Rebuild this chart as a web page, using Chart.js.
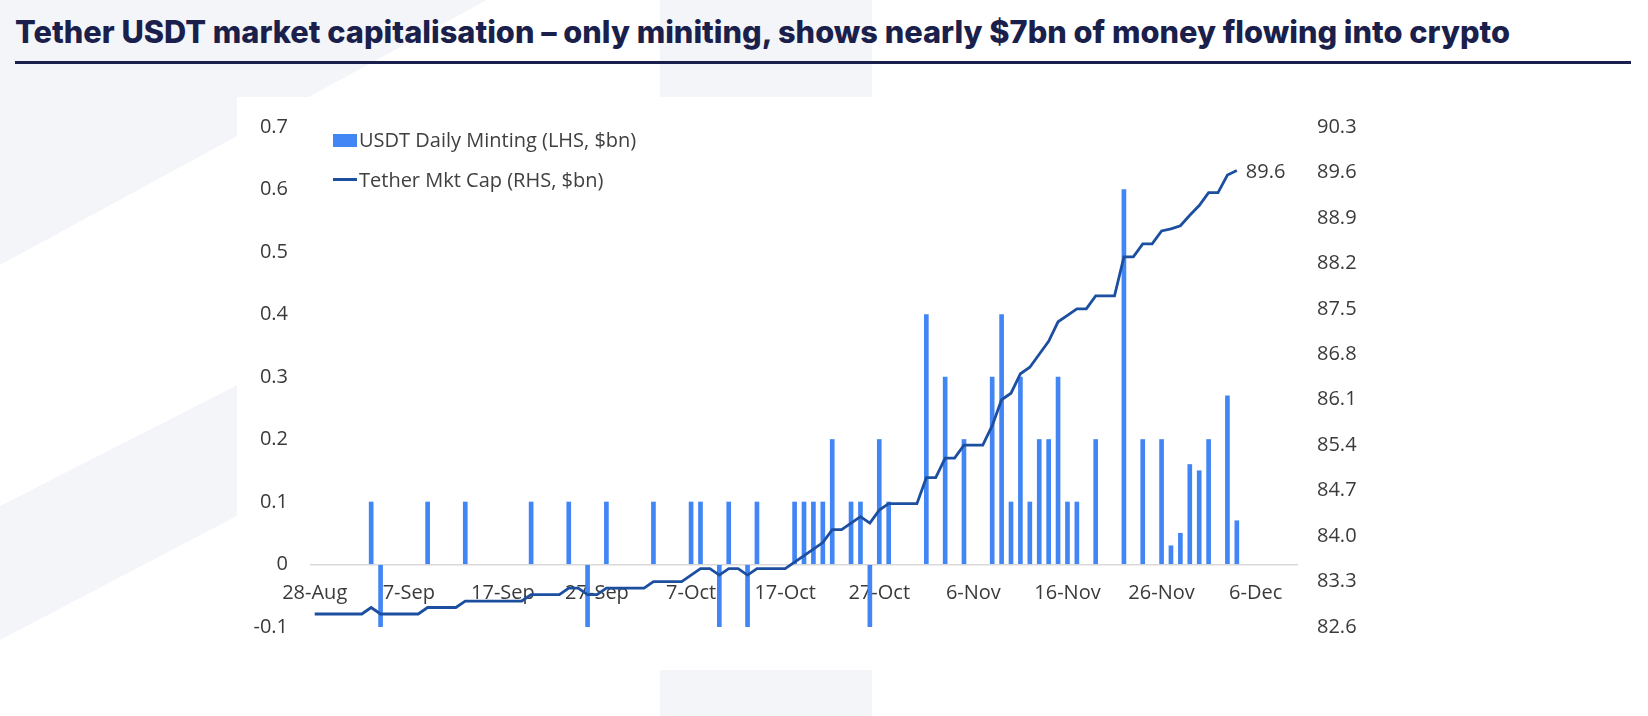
<!DOCTYPE html>
<html>
<head>
<meta charset="utf-8">
<script src="https://cdn.jsdelivr.net/npm/chart.js@4.4.1/dist/chart.umd.min.js"></script>
<style>
  html, body { margin: 0; padding: 0; background: #ffffff; }
  body { width: 1648px; height: 716px; position: relative; overflow: hidden; font-family: "Open Sans", sans-serif; }
  #decor { position: absolute; left: 0; top: 0; }
  #box { position: absolute; left: 237px; top: 97px; width: 1190px; height: 573px; background: #ffffff; }
  #title { position: absolute; left: 15px; top: 12px; white-space: nowrap; font-family: "Inter", "Noto Sans", sans-serif; font-weight: 800; font-size: 27px; line-height: 40px; color: #1b1f4c; }
  #rule { position: absolute; left: 15px; top: 61px; width: 1616px; height: 3px; background: #1b1f4c; }
  #chart { position: absolute; left: 0; top: 0; }
  .lg-text { position: absolute; font-family: "Open Sans", sans-serif; font-size: 20px; color: #404040; white-space: nowrap; line-height: 24px; }
  .lg-sw { position: absolute; }
</style>
</head>
<body>
<svg id="decor" width="1648" height="716" xmlns="http://www.w3.org/2000/svg">
  <polygon points="0,0 487,0 0,265" fill="#f4f5f8"/>
  <polygon points="0,506 420,292 420,420 0,640" fill="#f4f5f8"/>
  <rect x="660" y="0" width="212" height="716" fill="#f4f5f8"/>
</svg>
<div id="box"></div>
<div id="title">Tether USDT market capitalisation – only miniting, shows nearly $7bn of money flowing into crypto</div>
<div id="rule"></div>
<canvas id="chart" width="1648" height="716"></canvas>
<div id="legend"></div>
<script>
// ---- Data ----
const categories = [
  "28-Aug","29-Aug","30-Aug","31-Aug",
  "1-Sep","2-Sep","3-Sep","4-Sep","5-Sep","6-Sep","7-Sep","8-Sep","9-Sep","10-Sep",
  "11-Sep","12-Sep","13-Sep","14-Sep","15-Sep","16-Sep","17-Sep","18-Sep","19-Sep","20-Sep",
  "21-Sep","22-Sep","23-Sep","24-Sep","25-Sep","26-Sep","27-Sep","28-Sep","29-Sep","30-Sep",
  "1-Oct","2-Oct","3-Oct","4-Oct","5-Oct","6-Oct","7-Oct","8-Oct","9-Oct","10-Oct",
  "11-Oct","12-Oct","13-Oct","14-Oct","15-Oct","16-Oct","17-Oct","18-Oct","19-Oct","20-Oct",
  "21-Oct","22-Oct","23-Oct","24-Oct","25-Oct","26-Oct","27-Oct","28-Oct","29-Oct","30-Oct","31-Oct",
  "1-Nov","2-Nov","3-Nov","4-Nov","5-Nov","6-Nov","7-Nov","8-Nov","9-Nov","10-Nov",
  "11-Nov","12-Nov","13-Nov","14-Nov","15-Nov","16-Nov","17-Nov","18-Nov","19-Nov","20-Nov",
  "21-Nov","22-Nov","23-Nov","24-Nov","25-Nov","26-Nov","27-Nov","28-Nov","29-Nov","30-Nov",
  "1-Dec","2-Dec","3-Dec","4-Dec","5-Dec","6-Dec","7-Dec","8-Dec","9-Dec","10-Dec"
];

const xTickLabels = ["28-Aug","7-Sep","17-Sep","27-Sep","7-Oct","17-Oct","27-Oct","6-Nov","16-Nov","26-Nov","6-Dec"];

// USDT daily minting, $bn (LHS); null = no minting that day
const dailyMinting = [
  null, null, null, null, null, null, 0.1, -0.1, null, null,
  null, null, 0.1, null, null, null, 0.1, null, null, null,
  null, null, null, 0.1, null, null, null, 0.1, null, -0.1,
  null, 0.1, null, null, null, null, 0.1, null, null, null,
  0.1, 0.1, null, -0.1, 0.1, null, -0.1, 0.1, null, null,
  null, 0.1, 0.1, 0.1, 0.1, 0.2, null, 0.1, 0.1, -0.1,
  0.2, 0.1, null, null, null, 0.4, null, 0.3, null, 0.2,
  null, null, 0.3, 0.4, 0.1, 0.3, 0.1, 0.2, 0.2, 0.3,
  0.1, 0.1, null, 0.2, null, null, 0.6, null, 0.2, null,
  0.2, 0.03, 0.05, 0.16, 0.15, 0.2, null, 0.27, 0.07
];

// Tether market cap, $bn (RHS)
const marketCap = [
  82.8, 82.8, 82.8, 82.8, 82.8, 82.8, 82.9, 82.8, 82.8, 82.8,
  82.8, 82.8, 82.9, 82.9, 82.9, 82.9, 83.0, 83.0, 83.0, 83.0,
  83.0, 83.0, 83.0, 83.1, 83.1, 83.1, 83.1, 83.2, 83.2, 83.1,
  83.1, 83.2, 83.2, 83.2, 83.2, 83.2, 83.3, 83.3, 83.3, 83.3,
  83.4, 83.5, 83.5, 83.4, 83.5, 83.5, 83.4, 83.5, 83.5, 83.5,
  83.5, 83.6, 83.7, 83.8, 83.9, 84.1, 84.1, 84.2, 84.3, 84.2,
  84.4, 84.5, 84.5, 84.5, 84.5, 84.9, 84.9, 85.2, 85.2, 85.4,
  85.4, 85.4, 85.7, 86.1, 86.2, 86.5, 86.6, 86.8, 87.0, 87.3,
  87.4, 87.5, 87.5, 87.7, 87.7, 87.7, 88.3, 88.3, 88.5, 88.5,
  88.7, 88.73, 88.78, 88.94, 89.09, 89.29, 89.29, 89.56, 89.63
];

const leftTicks = [-0.1, 0, 0.1, 0.2, 0.3, 0.4, 0.5, 0.6, 0.7];
const rightTicks = [82.6, 83.3, 84.0, 84.7, 85.4, 86.1, 86.8, 87.5, 88.2, 88.9, 89.6, 90.3];

const seriesNames = ["USDT Daily Minting (LHS, $bn)", "Tether Mkt Cap (RHS, $bn)"];

// ---- Styles ----
const BAR_COLOR = "#4285f4";
const LINE_COLOR = "#1c4fa0";
const TEXT_COLOR = "#3a3a3a";
const FONT = { family: "'Open Sans', sans-serif", size: 20 };

// fit title to reference width
(function () {
  const t = document.getElementById("title");
  const target = 1496;
  let size = 27;
  t.style.fontSize = size + "px";
  size = size * target / t.scrollWidth;
  t.style.fontSize = size.toFixed(2) + "px";
})();

const endLabel = {
  id: "endLabel",
  afterDatasetsDraw(chart) {
    const meta = chart.getDatasetMeta(0);
    const ds = chart.data.datasets[0];
    let idx = ds.data.length - 1;
    while (idx > 0 && (ds.data[idx] === null || ds.data[idx] === undefined)) idx--;
    const pt = meta.data[idx];
    if (!pt) return;
    const c = chart.ctx;
    c.save();
    c.font = FONT.size + "px " + FONT.family;
    c.fillStyle = TEXT_COLOR;
    c.textAlign = "left";
    c.textBaseline = "middle";
    c.fillText(ds.data[idx].toFixed(1), pt.x + 9, pt.y + 2);
    c.restore();
  }
};

const chart = new Chart(document.getElementById("chart"), {
  data: {
    labels: categories,
    datasets: [
      {
        type: "line",
        label: seriesNames[1],
        data: marketCap,
        yAxisID: "y2",
        borderColor: LINE_COLOR,
        borderWidth: 2.8,
        pointRadius: 0,
        tension: 0,
        order: 0
      },
      {
        type: "bar",
        label: seriesNames[0],
        data: dailyMinting,
        yAxisID: "y",
        backgroundColor: BAR_COLOR,
        barThickness: 4,
        borderWidth: 0,
        order: 1
      }
    ]
  },
  options: {
    responsive: false,
    animation: false,
    layout: { padding: { left: 0, right: 0, top: 127, bottom: 89 } },
    plugins: { legend: { display: false }, tooltip: { enabled: false } },
    scales: {
      x: {
        type: "category",
        position: { y: 0 },
        offset: true,
        grid: { display: false, drawTicks: false },
        border: { display: false },
        ticks: {
          autoSkip: false,
          maxRotation: 0,
          minRotation: 0,
          padding: 17,
          font: FONT,
          color: TEXT_COLOR,
          callback: (v, i) => (xTickLabels.includes(categories[i]) ? categories[i] : "")
        }
      },
      y: {
        position: "left",
        min: -0.1,
        max: 0.7,
        afterBuildTicks: s => { s.ticks = leftTicks.map(v => ({ value: v })); },
        afterFit: s => { s.width = 310; },
        grid: {
          drawTicks: false,
          lineWidth: 1.5,
          color: c => (c.tick && c.tick.value === 0 ? "#d9d9d9" : "rgba(0,0,0,0)")
        },
        border: { display: false },
        ticks: {
          padding: 22,
          font: FONT,
          color: TEXT_COLOR,
          callback: v => (v === 0 ? "0" : v.toFixed(1))
        }
      },
      y2: {
        position: "right",
        min: 82.6,
        max: 90.3,
        afterBuildTicks: s => { s.ticks = rightTicks.map(v => ({ value: v })); },
        afterFit: s => { s.width = 350; },
        grid: { display: false, drawTicks: false },
        border: { display: false },
        ticks: {
          padding: 19,
          font: FONT,
          color: TEXT_COLOR,
          callback: v => v.toFixed(1)
        }
      }
    }
  },
  plugins: [endLabel]
});

// HTML legend built from the chart's datasets
(function () {
  const lg = document.getElementById("legend");
  const barDs = chart.data.datasets[1];
  const lineDs = chart.data.datasets[0];
  const items = [
    { ds: barDs, top: 128, swTop: 134, swH: 13, color: barDs.backgroundColor },
    { ds: lineDs, top: 168, swTop: 178, swH: 2.8, color: lineDs.borderColor }
  ];
  items.forEach(it => {
    const sw = document.createElement("div");
    sw.className = "lg-sw";
    sw.style.left = "333px";
    sw.style.top = it.swTop + "px";
    sw.style.width = "24px";
    sw.style.height = it.swH + "px";
    sw.style.background = it.color;
    lg.appendChild(sw);
    const tx = document.createElement("div");
    tx.className = "lg-text";
    tx.style.left = "359px";
    tx.style.top = it.top + "px";
    tx.textContent = it.ds.label;
    lg.appendChild(tx);
  });
})();
</script>
</body>
</html>
